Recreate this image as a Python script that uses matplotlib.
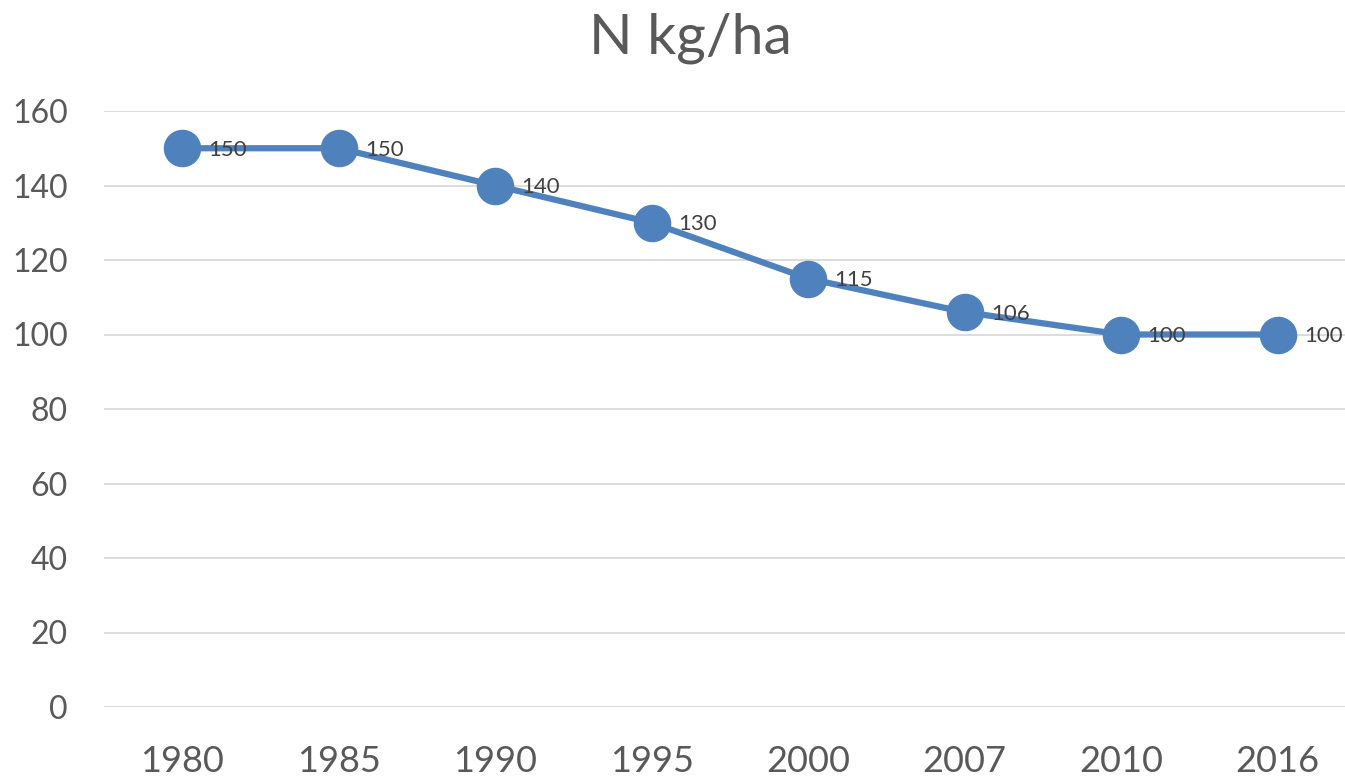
import matplotlib.pyplot as plt
import numpy as np

years = ["1980", "1985", "1990", "1995", "2000", "2007", "2010", "2016"]
values = [150, 150, 140, 130, 115, 106, 100, 100]
yticks = [0, 20, 40, 60, 80, 100, 120, 140, 160]

plt.rcParams['font.family'] = ['Lato', 'DejaVu Sans']

fig = plt.figure(figsize=(13.45, 7.79), dpi=100)
ax = fig.add_axes([104 / 1345, 1 - 707 / 779, (1356 - 104) / 1345, (707 - 111) / 779])

x = np.arange(len(years))
ax.plot(x, values, color="#4F81BD", linewidth=4.5, marker="o", markersize=26,
        solid_capstyle="round", zorder=3, clip_on=False)
for xi, v in zip(x, values):
    ax.annotate(str(v), xy=(xi, v), xytext=(19, -1), textcoords="offset points",
                ha="left", va="center", fontsize=16, color="#404040", zorder=4)

ax.set_xlim(-0.5, len(years) - 0.5)
ax.set_ylim(0, 160)
ax.set_yticks(yticks)
ax.set_xticks(x)
ax.set_xticklabels(years)
ax.yaxis.grid(True, color="#D9D9D9", linewidth=1.3)
ax.set_axisbelow(True)
for s in ax.spines.values():
    s.set_visible(False)
ax.tick_params(axis="both", length=0, colors="#595959")
ax.tick_params(axis="y", pad=26, labelsize=23)
ax.tick_params(axis="x", pad=27, labelsize=26)

fig.text(0.513, 1 - 38 / 779, "N kg/ha", ha="center", va="center", fontsize=41, color="#595959")

fig.savefig("out.png", dpi=100)
